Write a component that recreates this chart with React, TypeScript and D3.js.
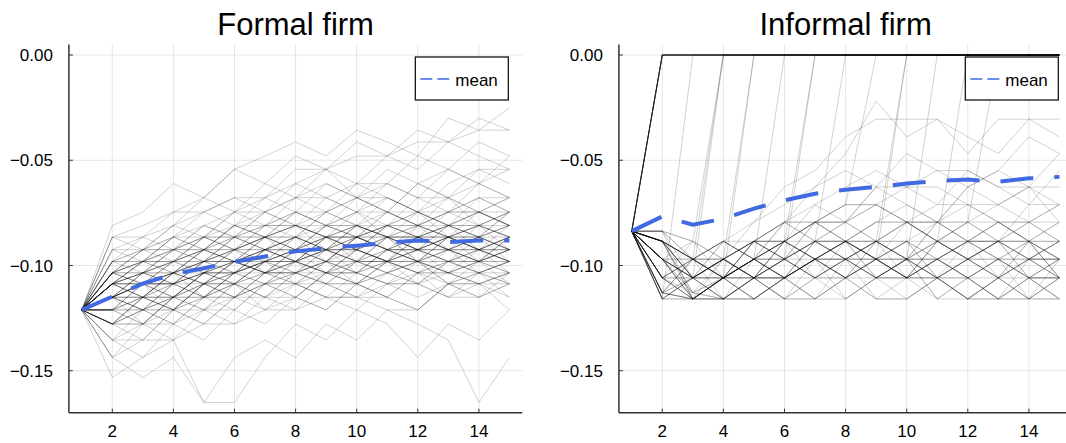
import React from "react";
import * as d3 from "d3";

// ---------- data ----------
const periods = [1, 2, 3, 4, 5, 6, 7, 8, 9, 10, 11, 12, 13, 14, 15];
const xTicks = [2, 4, 6, 8, 10, 12, 14];
const yTicks = [0, -0.05, -0.1, -0.15];
const yTickLabels = ["0.00", "\u22120.05", "\u22120.10", "\u22120.15"];
const panelTitles = ["Formal firm", "Informal firm"];
const legendLabel = "mean";

// grid of values the formal-firm paths move on (index 16 = start)
const formalLevels = [
  -0.025, -0.03, -0.0357, -0.0413, -0.048, -0.0543, -0.0611, -0.0678, -0.0746, -0.081,
  -0.0865, -0.0925, -0.0981, -0.1035, -0.1087, -0.1151, -0.1211, -0.1278, -0.1354,
  -0.1437, -0.1532, -0.1651,
];

// each path: level index at periods 1..15
const formalPaths = [
  [16, 15, 14, 13, 12, 12, 11, 10, 11, 10, 9, 10, 9, 8, 9],
  [16, 14, 13, 12, 13, 11, 10, 11, 9, 10, 11, 10, 9, 10, 9],
  [16, 13, 12, 11, 10, 11, 9, 8, 9, 7, 8, 9, 8, 7, 8],
  [16, 15, 16, 14, 13, 14, 12, 13, 12, 11, 12, 13, 12, 11, 12],
  [16, 17, 15, 14, 15, 13, 12, 11, 12, 10, 11, 12, 11, 12, 10],
  [16, 14, 15, 13, 11, 12, 11, 10, 8, 9, 10, 9, 11, 10, 11],
  [16, 16, 14, 15, 13, 12, 13, 11, 10, 11, 9, 10, 11, 9, 10],
  [16, 13, 14, 12, 11, 9, 10, 9, 8, 7, 8, 6, 7, 8, 7],
  [16, 15, 13, 14, 12, 13, 11, 12, 13, 11, 12, 11, 10, 11, 12],
  [16, 17, 16, 15, 14, 15, 13, 14, 12, 13, 14, 12, 13, 14, 13],
  [16, 12, 11, 10, 9, 8, 9, 7, 6, 7, 5, 6, 5, 6, 4],
  [16, 14, 12, 13, 14, 12, 11, 12, 10, 11, 10, 12, 11, 10, 11],
  [16, 15, 14, 12, 13, 11, 12, 10, 11, 12, 10, 11, 13, 12, 11],
  [16, 18, 17, 15, 16, 14, 15, 13, 14, 12, 13, 14, 12, 13, 14],
  [16, 16, 15, 13, 12, 10, 11, 12, 11, 9, 10, 11, 10, 9, 10],
  [16, 13, 11, 12, 10, 11, 10, 8, 9, 10, 8, 9, 10, 8, 9],
  [16, 14, 15, 16, 14, 15, 13, 14, 15, 13, 14, 15, 14, 13, 15],
  [16, 15, 13, 12, 11, 12, 10, 9, 10, 11, 9, 8, 10, 9, 8],
  [16, 17, 18, 16, 17, 15, 16, 14, 15, 16, 14, 13, 15, 14, 16],
  [16, 11, 10, 9, 7, 8, 6, 7, 5, 6, 4, 5, 3, 4, 5],
  [16, 14, 13, 11, 12, 13, 11, 10, 12, 10, 11, 10, 9, 11, 10],
  [16, 16, 17, 15, 13, 14, 12, 13, 11, 12, 13, 11, 12, 11, 13],
  [16, 12, 13, 11, 9, 10, 8, 9, 7, 8, 9, 7, 8, 6, 7],
  [16, 15, 16, 15, 14, 13, 14, 12, 13, 11, 12, 13, 11, 12, 11],
  [16, 19, 17, 18, 16, 17, 15, 16, 14, 15, 13, 14, 15, 13, 14],
  [16, 13, 12, 10, 11, 9, 10, 11, 9, 8, 10, 9, 7, 8, 9],
  [16, 14, 14, 13, 15, 13, 12, 11, 13, 12, 11, 12, 10, 11, 12],
  [16, 15, 14, 15, 13, 12, 13, 12, 11, 12, 10, 11, 12, 10, 11],
  [16, 17, 15, 16, 14, 13, 12, 14, 12, 13, 11, 12, 14, 12, 13],
  [16, 10, 9, 8, 7, 5, 6, 4, 5, 3, 4, 2, 3, 1, 2],
  [16, 14, 12, 11, 10, 11, 12, 10, 11, 9, 10, 11, 9, 10, 8],
  [16, 16, 14, 13, 14, 12, 13, 11, 10, 11, 12, 10, 11, 12, 10],
  [16, 18, 16, 17, 15, 16, 14, 15, 16, 14, 15, 16, 14, 15, 13],
  [16, 15, 15, 13, 12, 11, 10, 11, 10, 9, 8, 9, 8, 9, 10],
  [16, 13, 13, 12, 10, 9, 10, 8, 9, 10, 9, 8, 9, 7, 8],
  [16, 17, 16, 14, 15, 14, 13, 12, 13, 11, 12, 11, 10, 11, 10],
  [16, 14, 13, 14, 12, 11, 13, 12, 11, 13, 12, 10, 11, 12, 11],
  [16, 15, 17, 15, 16, 14, 15, 13, 12, 14, 13, 12, 13, 11, 12],
  [16, 12, 10, 11, 9, 10, 8, 7, 8, 6, 7, 8, 6, 5, 6],
  [16, 20, 19, 17, 18, 16, 17, 15, 16, 14, 15, 16, 14, 15, 14],
  [16, 16, 15, 16, 14, 15, 14, 12, 13, 14, 12, 13, 12, 13, 12],
  [16, 14, 15, 13, 14, 12, 11, 10, 11, 10, 9, 10, 11, 10, 9],
  [16, 13, 11, 9, 10, 8, 7, 8, 6, 7, 8, 6, 7, 6, 5],
  [16, 15, 13, 14, 13, 11, 10, 12, 10, 9, 11, 10, 9, 10, 11],
  [16, 17, 17, 16, 17, 15, 14, 15, 13, 14, 15, 13, 14, 13, 12],
  [16, 18, 19, 18, 21, 21, 19, 17, 18, 16, 17, 19, 17, 18, 16],
  [16, 9, 8, 6, 7, 5, 4, 3, 4, 2, 3, 4, 1, 2, 0],
  [16, 14, 12, 12, 11, 10, 9, 10, 8, 9, 7, 8, 9, 8, 7],
  [16, 15, 14, 13, 11, 12, 13, 11, 12, 10, 11, 12, 10, 11, 10],
  [16, 16, 16, 14, 13, 12, 11, 12, 10, 11, 12, 9, 10, 11, 9],
  [16, 19, 20, 19, 21, 19, 18, 19, 17, 18, 16, 17, 18, 21, 19],
  [16, 13, 14, 13, 12, 10, 11, 9, 10, 12, 10, 11, 10, 9, 11],
  [16, 12, 12, 10, 8, 9, 7, 6, 7, 8, 6, 7, 5, 6, 7],
  [16, 15, 16, 17, 15, 14, 16, 15, 13, 14, 12, 14, 13, 14, 13],
  [16, 14, 14, 15, 13, 14, 12, 11, 12, 10, 11, 9, 10, 12, 11],
  [16, 17, 15, 13, 14, 12, 13, 12, 14, 12, 13, 12, 11, 13, 12],
  [16, 13, 12, 13, 11, 12, 10, 9, 11, 9, 10, 8, 9, 10, 8],
  [16, 10, 11, 9, 8, 7, 8, 6, 5, 7, 6, 4, 5, 3, 4],
  [16, 15, 14, 16, 15, 13, 14, 13, 12, 13, 11, 12, 13, 12, 14],
  [16, 11, 12, 10, 11, 9, 8, 9, 10, 8, 7, 8, 7, 9, 8],
  [16, 15, 15, 14, 14, 13, 12, 12, 11, 11, 10, 10, 11, 11, 10],
  [16, 14, 14, 12, 12, 11, 11, 10, 10, 9, 9, 10, 10, 9, 9],
  [16, 16, 15, 15, 13, 13, 12, 12, 11, 12, 12, 11, 11, 12, 12],
  [16, 13, 13, 11, 11, 10, 10, 9, 9, 8, 8, 9, 9, 8, 8],
  [16, 17, 17, 15, 15, 14, 14, 13, 13, 12, 12, 13, 13, 12, 12],
  [16, 15, 14, 14, 12, 12, 13, 13, 11, 11, 12, 12, 10, 10, 11],
  [16, 14, 13, 13, 12, 11, 11, 12, 12, 10, 10, 11, 11, 10, 10],
  [16, 16, 14, 14, 13, 13, 11, 11, 12, 12, 11, 11, 9, 9, 10],
  [16, 12, 12, 11, 11, 9, 9, 8, 8, 7, 7, 8, 8, 7, 7],
  [16, 15, 16, 16, 14, 14, 13, 13, 14, 14, 13, 12, 12, 13, 13],
  [16, 13, 12, 12, 10, 10, 9, 9, 10, 10, 8, 8, 9, 9, 8],
  [16, 17, 16, 16, 15, 15, 14, 14, 13, 13, 14, 14, 12, 12, 13],
  [16, 14, 15, 15, 13, 13, 12, 12, 10, 10, 11, 11, 12, 12, 11],
  [16, 15, 13, 13, 11, 11, 10, 10, 11, 11, 9, 9, 10, 10, 9],
  [16, 18, 18, 16, 16, 15, 15, 14, 14, 15, 15, 13, 13, 14, 14],
  [16, 11, 11, 10, 10, 8, 8, 7, 7, 6, 6, 7, 7, 5, 5],
  [16, 14, 14, 14, 12, 12, 12, 11, 11, 11, 10, 10, 10, 11, 11],
  [16, 16, 16, 15, 15, 13, 13, 13, 12, 12, 12, 11, 11, 11, 12],
  [16, 13, 14, 14, 13, 13, 11, 11, 10, 10, 11, 11, 10, 10, 12],
  [16, 15, 15, 16, 14, 14, 12, 12, 13, 13, 11, 11, 12, 12, 10],
  [16, 12, 11, 11, 10, 10, 11, 11, 9, 9, 10, 10, 8, 8, 9],
  [16, 17, 15, 15, 14, 14, 15, 15, 13, 13, 12, 12, 13, 13, 12],
  [16, 14, 13, 12, 12, 10, 10, 11, 11, 12, 12, 10, 10, 11, 11],
  [16, 15, 14, 14, 15, 15, 13, 13, 14, 14, 12, 12, 14, 14, 13],
  [16, 13, 11, 11, 12, 12, 10, 10, 9, 9, 10, 10, 11, 11, 10],
  [16, 16, 17, 17, 16, 16, 14, 14, 15, 15, 14, 14, 15, 15, 14],
  [16, 19, 18, 18, 17, 17, 16, 16, 15, 15, 16, 16, 14, 14, 15],
  [16, 10, 10, 8, 8, 7, 7, 5, 5, 4, 4, 3, 3, 2, 2],
  [16, 14, 12, 12, 11, 11, 9, 9, 10, 10, 9, 9, 8, 8, 9],
  [16, 15, 14, 13, 13, 12, 12, 11, 11, 10, 10, 12, 12, 11, 11],
];

const formalMean = [
  -0.1211, -0.1148, -0.1086, -0.1041, -0.1013, -0.0983, -0.0957, -0.0933, -0.0918,
  -0.0906, -0.0892, -0.0881, -0.0889, -0.0881, -0.0881,
];

// grid of values for the informal-firm paths (index 0 = exit at 0, index 9 = start)
const informalLevels = [
  0.0, -0.0219, -0.0305, -0.0389, -0.0468, -0.0549, -0.0627, -0.0711, -0.0794, -0.0837,
  -0.0885, -0.097, -0.1059, -0.113, -0.1159,
];

const informalPaths = [
  // exit right after period 1
  [9, 0, 0, 0, 0, 0, 0, 0, 0, 0, 0, 0, 0, 0, 0],
  [9, 0, 0, 0, 0, 0, 0, 0, 0, 0, 0, 0, 0, 0, 0],
  [9, 0, 0, 0, 0, 0, 0, 0, 0, 0, 0, 0, 0, 0, 0],
  [9, 0, 0, 0, 0, 0, 0, 0, 0, 0, 0, 0, 0, 0, 0],
  [9, 0, 0, 0, 0, 0, 0, 0, 0, 0, 0, 0, 0, 0, 0],
  [9, 0, 0, 0, 0, 0, 0, 0, 0, 0, 0, 0, 0, 0, 0],
  [9, 0, 0, 0, 0, 0, 0, 0, 0, 0, 0, 0, 0, 0, 0],
  [9, 0, 0, 0, 0, 0, 0, 0, 0, 0, 0, 0, 0, 0, 0],
  [9, 0, 0, 0, 0, 0, 0, 0, 0, 0, 0, 0, 0, 0, 0],
  [9, 0, 0, 0, 0, 0, 0, 0, 0, 0, 0, 0, 0, 0, 0],
  [9, 0, 0, 0, 0, 0, 0, 0, 0, 0, 0, 0, 0, 0, 0],
  [9, 0, 0, 0, 0, 0, 0, 0, 0, 0, 0, 0, 0, 0, 0],
  // later exits
  [9, 14, 0, 0, 0, 0, 0, 0, 0, 0, 0, 0, 0, 0, 0],
  [9, 10, 11, 0, 0, 0, 0, 0, 0, 0, 0, 0, 0, 0, 0],
  [9, 11, 12, 0, 0, 0, 0, 0, 0, 0, 0, 0, 0, 0, 0],
  [9, 12, 10, 0, 0, 0, 0, 0, 0, 0, 0, 0, 0, 0, 0],
  [9, 11, 12, 11, 0, 0, 0, 0, 0, 0, 0, 0, 0, 0, 0],
  [9, 10, 12, 12, 0, 0, 0, 0, 0, 0, 0, 0, 0, 0, 0],
  [9, 13, 14, 12, 11, 0, 0, 0, 0, 0, 0, 0, 0, 0, 0],
  [9, 10, 11, 12, 10, 11, 0, 0, 0, 0, 0, 0, 0, 0, 0],
  [9, 12, 14, 12, 11, 10, 0, 0, 0, 0, 0, 0, 0, 0, 0],
  [9, 11, 12, 11, 10, 8, 10, 0, 0, 0, 0, 0, 0, 0, 0],
  [9, 13, 11, 12, 11, 10, 8, 7, 0, 0, 0, 0, 0, 0, 0],
  [9, 10, 12, 11, 12, 10, 11, 10, 11, 0, 0, 0, 0, 0, 0],
  [9, 12, 11, 10, 11, 12, 11, 12, 10, 0, 0, 0, 0, 0, 0],
  [9, 11, 14, 12, 11, 12, 11, 10, 12, 11, 0, 0, 0, 0, 0],
  [9, 10, 11, 12, 10, 11, 12, 11, 10, 8, 10, 0, 0, 0, 0],
  [9, 12, 12, 14, 12, 11, 10, 11, 12, 11, 10, 8, 0, 0, 0],
  // staying active
  [9, 9, 11, 12, 12, 11, 10, 10, 11, 12, 12, 11, 10, 10, 11],
  [9, 10, 12, 14, 14, 12, 11, 11, 12, 12, 11, 10, 10, 12, 12],
  [9, 11, 14, 14, 12, 12, 11, 12, 12, 11, 11, 12, 14, 14, 12],
  [9, 13, 14, 12, 11, 11, 10, 10, 8, 8, 10, 11, 11, 12, 12],
  [9, 10, 11, 12, 11, 10, 8, 8, 10, 11, 11, 10, 10, 8, 8],
  [9, 11, 12, 11, 12, 14, 14, 12, 11, 11, 12, 14, 12, 11, 11],
  [9, 9, 10, 11, 10, 10, 8, 7, 7, 8, 8, 10, 11, 10, 10],
  [9, 12, 14, 12, 11, 10, 11, 12, 14, 14, 12, 11, 12, 14, 14],
  [9, 13, 12, 14, 14, 12, 11, 10, 10, 11, 12, 14, 14, 12, 12],
  [9, 10, 14, 12, 11, 12, 11, 10, 11, 10, 8, 8, 10, 11, 11],
  [9, 11, 11, 12, 14, 12, 11, 12, 11, 12, 11, 10, 12, 14, 12],
  [9, 14, 12, 11, 12, 11, 10, 11, 10, 11, 12, 11, 10, 11, 10],
  [9, 9, 12, 11, 10, 8, 7, 8, 6, 7, 8, 6, 7, 8, 7],
  [9, 10, 11, 10, 8, 7, 6, 5, 6, 4, 5, 6, 5, 3, 4],
  [9, 13, 11, 12, 10, 11, 10, 8, 7, 8, 10, 8, 7, 6, 8],
  [9, 11, 13, 11, 12, 10, 11, 12, 10, 11, 12, 10, 8, 10, 11],
  [9, 10, 12, 11, 10, 8, 6, 4, 1, 3, 2, 3, 4, 2, 3],
  [9, 12, 11, 10, 11, 12, 14, 12, 11, 12, 14, 12, 11, 12, 14],
  [9, 14, 14, 12, 14, 12, 11, 10, 12, 11, 10, 11, 12, 14, 12],
  [9, 11, 10, 11, 12, 11, 12, 11, 10, 8, 10, 11, 10, 8, 10],
  [9, 9, 11, 14, 12, 14, 12, 14, 12, 11, 12, 14, 12, 11, 12],
  [9, 13, 12, 11, 10, 11, 8, 10, 11, 12, 11, 10, 8, 10, 11],
  [9, 10, 13, 12, 11, 10, 7, 6, 5, 6, 7, 5, 6, 7, 5],
  [9, 12, 12, 11, 12, 10, 11, 10, 11, 12, 10, 11, 12, 10, 12],
  [9, 11, 12, 10, 11, 12, 11, 14, 12, 11, 14, 12, 14, 12, 11],
  [9, 10, 11, 12, 14, 12, 11, 10, 11, 12, 11, 10, 11, 12, 11],
  [9, 14, 12, 14, 12, 11, 12, 11, 14, 12, 11, 12, 11, 10, 12],
  [9, 11, 11, 10, 11, 8, 10, 11, 10, 11, 8, 7, 8, 10, 8],
  [9, 9, 10, 12, 11, 12, 10, 8, 10, 8, 10, 11, 10, 12, 11],
  [9, 13, 14, 12, 11, 12, 14, 12, 11, 10, 11, 12, 14, 11, 12],
  [9, 10, 12, 11, 8, 6, 5, 3, 2, 2, 2, 4, 2, 2, 2],
  [9, 12, 11, 12, 10, 11, 12, 11, 12, 14, 12, 11, 10, 11, 10],
  [9, 11, 14, 12, 11, 10, 11, 12, 11, 10, 12, 14, 12, 11, 12],
  [9, 10, 11, 10, 11, 10, 8, 10, 8, 7, 8, 6, 5, 6, 7],
  [9, 14, 12, 11, 12, 14, 12, 10, 11, 12, 11, 12, 11, 12, 14],
  [9, 12, 14, 14, 12, 11, 10, 11, 12, 11, 10, 11, 12, 10, 11],
  [9, 10, 14, 14, 12, 12, 10, 10, 8, 8, 7, 7, 8, 8, 10],
  [9, 13, 14, 12, 12, 10, 10, 11, 11, 8, 8, 10, 10, 11, 11],
  [9, 11, 12, 12, 11, 11, 8, 8, 7, 6, 6, 7, 7, 6, 6],
  [9, 12, 13, 14, 14, 12, 12, 11, 11, 12, 12, 14, 14, 12, 12],
  [9, 10, 11, 11, 10, 10, 11, 11, 12, 12, 10, 10, 8, 8, 7],
  [9, 14, 14, 12, 11, 8, 8, 10, 10, 11, 11, 12, 12, 11, 11],
  [9, 11, 13, 12, 12, 11, 11, 10, 10, 12, 12, 11, 11, 14, 14],
  [9, 12, 14, 11, 10, 10, 8, 8, 6, 6, 5, 5, 6, 6, 4],
  [9, 10, 12, 12, 14, 14, 11, 11, 10, 10, 11, 11, 10, 10, 12],
  [9, 13, 11, 11, 12, 12, 10, 10, 11, 11, 8, 8, 10, 10, 8],
  [9, 9, 14, 14, 11, 11, 12, 12, 14, 14, 12, 12, 11, 11, 10],
  [9, 11, 12, 10, 10, 8, 8, 7, 7, 8, 8, 10, 10, 7, 7],
  [9, 12, 11, 11, 12, 12, 14, 14, 12, 12, 10, 10, 11, 11, 10],
  [9, 10, 13, 14, 12, 12, 11, 11, 10, 10, 12, 12, 14, 14, 11],
  [9, 14, 12, 12, 10, 10, 12, 12, 11, 11, 14, 14, 12, 12, 14],
  [9, 11, 14, 12, 12, 14, 14, 11, 11, 10, 10, 8, 8, 10, 10],
];

const informalMean = [
  -0.0837, -0.0767, -0.0806, -0.0778, -0.073, -0.069, -0.0659, -0.064, -0.0627,
  -0.0611, -0.0598, -0.0592, -0.0602, -0.0586, -0.0579,
];

// ---------- drawing ----------
const W = 1066;
const H = 443;
const FONT = "'Liberation Sans', Arial, Helvetica, sans-serif";
const TOP = 44.6;
const BOTTOM = 412.7;
const MEAN_COLOR = "#4169e1";

type PanelProps = {
  id: string;
  left: number;
  right: number;
  title: string;
  levels: number[];
  paths: number[][];
  mean: number[];
  opacity: number;
};

function Panel({ id, left, right, title, levels, paths, mean, opacity }: PanelProps) {
  const x = d3.scaleLinear().domain([0.58, 15.42]).range([left, right]);
  const y = d3.scaleLinear().domain([-0.16995, 0.00495]).range([BOTTOM, TOP]);
  const line = d3
    .line<number>()
    .x((_, i) => x(periods[i]))
    .y((d) => y(d));
  const legW = 93;
  const legH = 43;
  const legX = right - 14 - legW;
  const legY = 57;
  const cx = (left + right) / 2;
  return (
    <g>
      <defs>
        <clipPath id={id}>
          <rect x={left} y={TOP} width={right - left} height={BOTTOM - TOP} />
        </clipPath>
      </defs>
      <text x={cx} y={35} textAnchor="middle" fontSize={31} fontFamily={FONT} fill="#000">
        {title}
      </text>
      {/* grid */}
      {xTicks.map((t) => (
        <line
          key={"gx" + t}
          x1={x(t)}
          x2={x(t)}
          y1={TOP}
          y2={BOTTOM}
          stroke="#000"
          strokeOpacity={0.1}
          strokeWidth={1}
        />
      ))}
      {yTicks.map((t) => (
        <line
          key={"gy" + t}
          x1={left}
          x2={right}
          y1={y(t)}
          y2={y(t)}
          stroke="#000"
          strokeOpacity={0.1}
          strokeWidth={1}
        />
      ))}
      {/* simulated paths */}
      <g clipPath={`url(#${id})`}>
        {paths.map((p, i) => (
          <path
            key={i}
            d={line(p.map((k) => levels[k])) || ""}
            fill="none"
            stroke="#000"
            strokeOpacity={opacity}
            strokeWidth={1}
            strokeLinejoin="round"
          />
        ))}
        <path
          d={line(mean) || ""}
          fill="none"
          stroke={MEAN_COLOR}
          strokeWidth={4}
          strokeDasharray="33 21"
        />
      </g>
      {/* axes */}
      <line x1={left} x2={left} y1={TOP} y2={BOTTOM} stroke="#333" strokeWidth={1.5} />
      <line x1={left} x2={right} y1={BOTTOM} y2={BOTTOM} stroke="#333" strokeWidth={1.5} />
      {xTicks.map((t) => (
        <g key={"tx" + t}>
          <line x1={x(t)} x2={x(t)} y1={BOTTOM} y2={BOTTOM - 4} stroke="#333" strokeWidth={1} />
          <text
            x={x(t)}
            y={BOTTOM + 24.5}
            textAnchor="middle"
            fontSize={17}
            fontFamily={FONT}
            fill="#000"
          >
            {t}
          </text>
        </g>
      ))}
      {yTicks.map((t, i) => (
        <g key={"ty" + t}>
          <line x1={left} x2={left + 4} y1={y(t)} y2={y(t)} stroke="#333" strokeWidth={1} />
          <text
            x={left - 16}
            y={y(t)}
            dy="0.36em"
            textAnchor="end"
            fontSize={17}
            fontFamily={FONT}
            fill="#000"
          >
            {yTickLabels[i]}
          </text>
        </g>
      ))}
      {/* legend */}
      <rect x={legX} y={legY} width={legW} height={legH} fill="#fff" stroke="#000" strokeWidth={1.2} />
      <line
        x1={legX + 5}
        x2={legX + 36}
        y1={legY + 22}
        y2={legY + 22}
        stroke={MEAN_COLOR}
        strokeWidth={1.6}
        strokeDasharray="12 5"
      />
      <text x={legX + 40} y={legY + 29} fontSize={17} fontFamily={FONT} fill="#000">
        {legendLabel}
      </text>
    </g>
  );
}

export default function App() {
  return (
    <svg
      width={W}
      height={H}
      viewBox={`0 0 ${W} ${H}`}
      style={{ position: "absolute", left: 0, top: 0, background: "#fff" }}
    >
      <rect x={0} y={0} width={W} height={H} fill="#fff" />
      <Panel
        id="clipFormal"
        left={68.9}
        right={522.3}
        title={panelTitles[0]}
        levels={formalLevels}
        paths={formalPaths}
        mean={formalMean}
        opacity={0.18}
      />
      <Panel
        id="clipInformal"
        left={618.9}
        right={1072.3}
        title={panelTitles[1]}
        levels={informalLevels}
        paths={informalPaths}
        mean={informalMean}
        opacity={0.18}
      />
    </svg>
  );
}
